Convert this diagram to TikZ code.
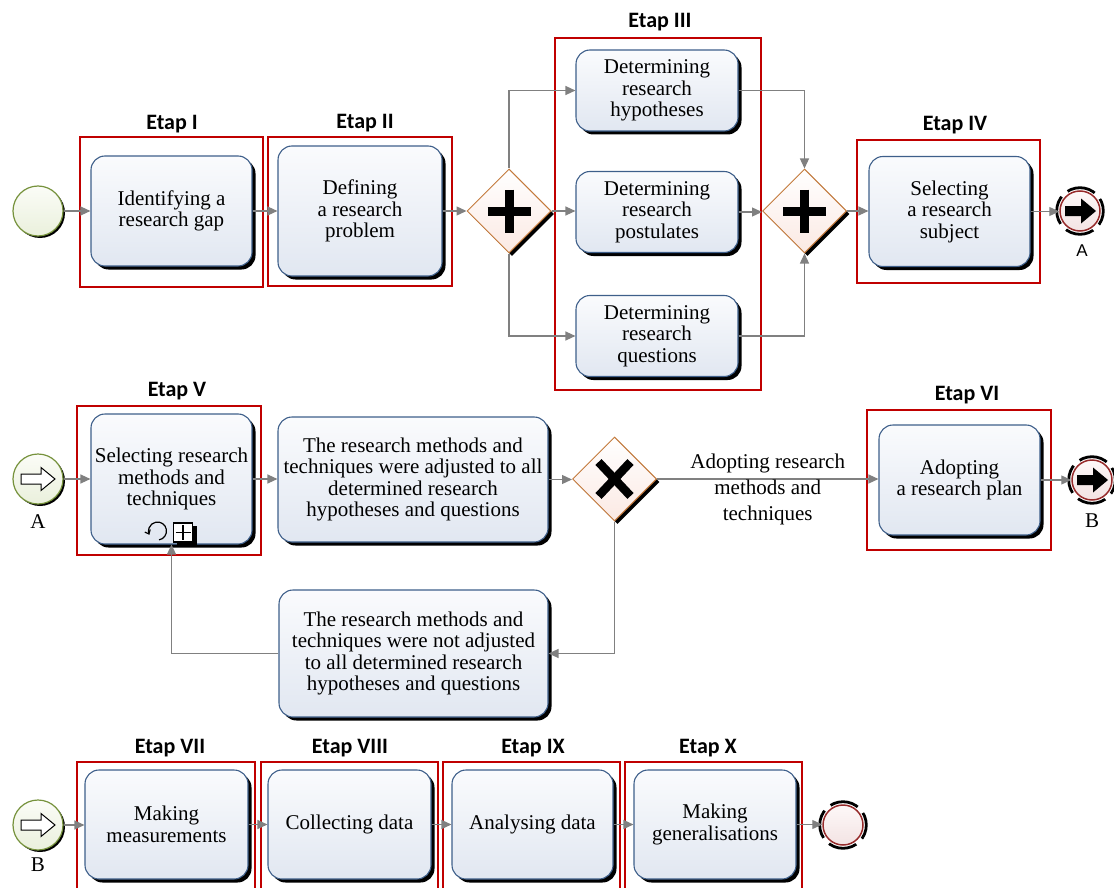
\documentclass[tikz,border=0pt]{standalone}
\usepackage{fontspec}
\setmainfont{Liberation Serif}
\newfontfamily\etapfont{Carlito}
\newfontfamily\labsans{Liberation Sans}
\usetikzlibrary{shapes.geometric,shadows,arrows.meta,calc}

\definecolor{taskline}{HTML}{3E5F8A}
\definecolor{tasktop}{HTML}{FAFBFD}
\definecolor{taskbot}{HTML}{E1E7F1}
\definecolor{framered}{HTML}{C00000}
\definecolor{flowgray}{HTML}{808080}
\definecolor{gwline}{HTML}{C47A3C}
\definecolor{gwtop}{HTML}{FFFFFF}
\definecolor{gwbot}{HTML}{FBE9E3}
\definecolor{startline}{HTML}{76923C}
\definecolor{starttop}{HTML}{FBFCF7}
\definecolor{startbot}{HTML}{EAF0DC}
\definecolor{endline}{HTML}{962A2A}
\definecolor{endtop}{HTML}{FDF8F8}
\definecolor{endbot}{HTML}{F3E3E3}

\tikzset{
  task/.style={rectangle, rounded corners=14pt, draw=taskline, line width=1.1pt,
    top color=tasktop, bottom color=taskbot,
    general shadow={fill=black, shadow xshift=3.5pt, shadow yshift=-3.5pt},
    align=center, inner sep=0pt, text=black, font=\fontsize{21}{21.5}\selectfont},
  gateway/.style={diamond, minimum width=84pt, minimum height=84pt, inner sep=0pt,
    draw=gwline, line width=1pt, top color=gwtop, bottom color=gwbot,
    general shadow={fill=black, shadow xshift=3pt, shadow yshift=-3pt}},
  startev/.style={circle, minimum size=50pt, inner sep=0pt, draw=startline, line width=1.2pt,
    top color=starttop, bottom color=startbot,
    general shadow={fill=black, shadow xshift=2pt, shadow yshift=-2pt}},
  endev/.style={circle, minimum size=40pt, inner sep=0pt, draw=endline, line width=1.5pt,
    top color=endtop, bottom color=endbot},
  endring/.style={black, line width=2.8pt, dash pattern=on 29pt off 8pt, dash phase=14.5pt},
  flow/.style={draw=flowgray, line width=1.3pt, -{Triangle[length=10pt, width=9pt]}},
  stageframe/.style={draw=framered, line width=2pt},
  etap/.style={font=\etapfont\bfseries\fontsize{22}{22}\selectfont, anchor=base, inner sep=0pt},
  flowlabel/.style={align=center, inner sep=0pt, font=\fontsize{21}{26}\selectfont},
  evlabel/.style={inner sep=0pt, font=\fontsize{21}{21}\selectfont},
  pics/rarrow/.style={code={
    \path[pic actions] (-15,-5) -- (1,-5) -- (1,-12.5) -- (16,0) -- (1,12.5) -- (1,5) -- (-15,5) -- cycle;}},
  pics/larrowout/.style={code={
    \path[pic actions] (-17,-5) -- (3,-5) -- (3,-11.5) -- (17,0) -- (3,11.5) -- (3,5) -- (-17,5) -- cycle;}},
}

\begin{document}
\begin{tikzpicture}[x=1pt, y=-1pt]
\useasboundingbox (0,0) rectangle (1114,888);
\clip (0,0) rectangle (1114,888);

% ---------- stage frames ----------
\draw[stageframe] (80,137) rectangle (263,287);
\draw[stageframe] (268,137) rectangle (452,286);
\draw[stageframe] (555,38) rectangle (761,390);
\draw[stageframe] (857,140) rectangle (1040,283);
\draw[stageframe] (77,406) rectangle (261,555);
\draw[stageframe] (867,410) rectangle (1051,550);
\draw[stageframe] (77,762) rectangle (255,900);
\draw[stageframe] (261,762) rectangle (438,900);
\draw[stageframe] (443,762) rectangle (620,900);
\draw[stageframe] (625,762) rectangle (802,900);

\node[etap] (e1) at (172,130) {Etap I};
\node[etap] (e2) at (365,129) {Etap II};
\node[etap] (e3) at (660,28) {Etap III};
\node[etap] (e4) at (955,131) {Etap IV};
\node[etap] (e5) at (177,396) {Etap V};
\node[etap] (e6) at (967,400) {Etap VI};
\node[etap] (e7) at (170,753) {Etap VII};
\node[etap] (e8) at (350,753) {Etap VIII};
\node[etap] (e9) at (533,753) {Etap IX};
\node[etap] (e10) at (708,753) {Etap X};

% ---------- row 1 ----------
\node[startev] (s1) at (38,211) {};
\node[task, minimum width=161pt, minimum height=110pt] (t1) at (171.5,211) {Identifying a\\research gap};
\node[task, minimum width=164pt, minimum height=130pt] (t2) at (360,211) {Defining\\a research\\problem};
\node[gateway] (g1) at (509,211) {};
\draw[black, line width=9pt] ($(g1.center)+(0,-21.5)$) -- ($(g1.center)+(0,21.5)$)
  ($(g1.center)+(-21.5,0)$) -- ($(g1.center)+(21.5,0)$);
\node[task, minimum width=162pt, minimum height=81pt] (t3a) at (657,90.5) {Determining\\research\\hypotheses};
\node[task, minimum width=162pt, minimum height=81pt] (t3b) at (657,212) {Determining\\research\\postulates};
\node[task, minimum width=162pt, minimum height=81pt] (t3c) at (657,336) {Determining\\research\\questions};
\node[gateway] (g2) at (804.5,211) {};
\draw[black, line width=9pt] ($(g2.center)+(0,-21.5)$) -- ($(g2.center)+(0,21.5)$)
  ($(g2.center)+(-21.5,0)$) -- ($(g2.center)+(21.5,0)$);
\node[task, minimum width=161pt, minimum height=110pt] (t4) at (949.5,211.5) {Selecting\\a research\\subject};
\node[endev] (eA) at (1080,211) {};
\draw[endring] (eA.center) circle[radius=23.3];
\pic[fill=black] at (eA.center) {rarrow};
\node[evlabel, font=\labsans\fontsize{17}{17}\selectfont] (lA1) at (1082,251) {A};

\draw[flow] (s1.east) -- (s1.east -| t1.west);
\draw[flow] (t1.east) -- (t1.east -| t2.west);
\draw[flow] (t2.east) -- (t2.east -| g1.west);
\draw[flow] (g1.north) |- (t3a.west);
\draw[flow] (g1.east) -- (g1.east -| t3b.west);
\draw[flow] (g1.south) |- (t3c.west);
\draw[flow] (t3a.east) -| (g2.north);
\draw[flow] (t3b.east) -- (t3b.east -| g2.west);
\draw[flow] (t3c.east) -| (g2.south);
\draw[flow] (g2.east) -- (g2.east -| t4.west);
\draw[flow] (t4.east) -- (t4.east -| eA.west);

% ---------- row 2 ----------
\node[startev] (sA) at (38,479) {};
\pic[draw=black, fill=white, line width=1pt] at (sA.center) {larrowout};
\node[evlabel] (lA2) at (38,522) {A};
\node[task, minimum width=161pt, minimum height=130pt] (t5) at (171.5,479) {Selecting research\\methods and\\techniques};
% loop and sub-process markers
\draw[black, line width=1.2pt, -{Straight Barb[length=3.5pt, width=6pt]}] ($(t5.center)+(-14,52)+(80:9)$) arc (80:-205:9);
\fill[black] ($(t5.center)+(5,47)$) rectangle ($(t5.center)+(25,66)$);
\draw[black, fill=white, line width=1.1pt] ($(t5.center)+(2,44)$) rectangle ($(t5.center)+(21,63)$);
\draw[black, line width=1.1pt] ($(t5.center)+(11.5,46)$) -- ($(t5.center)+(11.5,61)$)
  ($(t5.center)+(4,53.5)$) -- ($(t5.center)+(19,53.5)$);
\node[task, minimum width=270pt, minimum height=125pt] (tadj) at (413,479.5) {The research methods and\\techniques were adjusted to all\\determined research\\hypotheses and questions};
\node[gateway] (gx) at (614.5,479) {};
\draw[black, line width=8.5pt] ($(gx.center)+(-16,-17)$) -- ($(gx.center)+(16,17)$)
  ($(gx.center)+(-16,17)$) -- ($(gx.center)+(16,-17)$);
\node[task, minimum width=161pt, minimum height=110pt] (t6) at (959.5,480) {Adopting\\a research plan};
\node[endev] (eB) at (1092,480) {};
\draw[endring] (eB.center) circle[radius=23.3];
\pic[fill=black] at (eB.center) {rarrow};
\node[evlabel] (lB1) at (1092,521) {B};
\node[task, minimum width=269pt, minimum height=127pt] (tnot) at (413.5,653.5) {The research methods and\\techniques were not adjusted\\to all determined research\\hypotheses and questions};

\draw[flow] (sA.east) -- (sA.east -| t5.west);
\draw[flow] (t5.east) -- (t5.east -| tadj.west);
\draw[flow] (tadj.east) -- (tadj.east -| gx.west);
\draw[flow] (gx.east) -- node[flowlabel, yshift=-10pt] {Adopting research\\methods and\\techniques} (gx.east -| t6.west);
\draw[flow] (t6.east) -- (t6.east -| eB.west);
\draw[flow] (gx.south) |- (tnot.east);
\draw[flow] (tnot.west) -| (t5.south);

% ---------- row 3 ----------
\node[startev] (sB) at (38,825) {};
\pic[draw=black, fill=white, line width=1pt] at (sB.center) {larrowout};
\node[evlabel] (lB2) at (38,865) {B};
\node[task, minimum width=163pt, minimum height=109pt] (t7) at (166.5,824.5) {Making\\measurements};
\node[task, minimum width=163pt, minimum height=109pt] (t8) at (349.5,824.5) {Collecting data};
\node[task, minimum width=161pt, minimum height=109pt] (t9) at (532.5,824.5) {Analysing data};
\node[task, minimum width=162pt, minimum height=109pt] (t10) at (715,824.5) {Making\\generalisations};
\node[endev] (eEnd) at (843,825) {};
\draw[endring] (eEnd.center) circle[radius=23.3];

\draw[flow] (sB.east) -- (sB.east -| t7.west);
\draw[flow] (t7.east) -- (t7.east -| t8.west);
\draw[flow] (t8.east) -- (t8.east -| t9.west);
\draw[flow] (t9.east) -- (t9.east -| t10.west);
\draw[flow] (t10.east) -- (t10.east -| eEnd.west);
\end{tikzpicture}
\end{document}
